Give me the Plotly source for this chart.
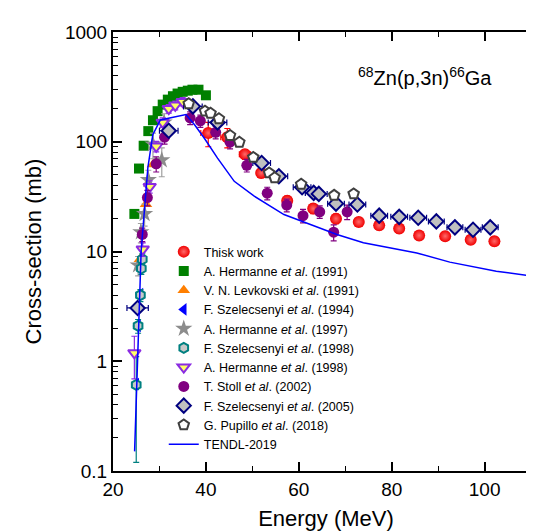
import plotly.graph_objects as go

# ---------------- data ----------------
tw_E = [40.5, 44.6, 48.4, 51.9, 57.5, 63.1, 68.0, 72.9, 77.3, 81.6, 85.9, 91.5, 97.0, 102.1]
tw_v = [120, 110, 77, 52, 29, 24.6, 19.9, 18.6, 17.3, 16.2, 14.0, 13.8, 12.8, 12.4]
tw_ey = [30, 22, 8, 5, 3, 2.5, 2, 1.5, 1.5, 1.4, 1.2, 1.2, 1.1, 1.1]
tw_ex = [1.6, 1.4, 1.2, 1.0, 0.9, 0.8, 0.7, 0.6, 0.6, 0.5, 0.5, 0.5, 0.5, 0.5]

h91_E = [24.6, 25.6, 26.6, 27.6, 28.6, 29.6, 30.7, 31.8, 32.9, 33.9, 35.0, 36.1, 37.1, 38.4, 40.0]
h91_v = [22, 57, 92, 125, 157, 190, 218, 242, 260, 275, 285, 292, 298, 298, 265]

lev_E = [25.8, 27.1, 28.6]
lev_v = [8.5, 27, 62]

s94_E = [25.0, 25.4, 25.9, 26.2]
s94_v = [0.62, 2.1, 4.1, 7.5]

h97_E = [25.4, 26.0, 26.8, 27.6, 28.6, 30.5, 31.0]
h97_v = [7.5, 15, 22, 45, 95, 68, 150]
h97_ey = [1.5, 3, 5, 10, 25, 20, 30]

s98_E = [25.0, 25.4, 25.9, 26.1, 26.3]
s98_v = [0.61, 2.1, 4.0, 7.0, 8.5]
s98_ey = [0.49, 0.3, 0.5, 0.8, 1.0]

h98_E = [24.6, 26.4, 27.9, 29.3, 30.7, 32.0, 33.4, 35.0]
h98_v = [1.19, 10.5, 39, 91, 150, 200, 215, 232]
h98_ey = [0.5, 1.5, 5, 10, 15, 18, 20, 20]

st_E = [26.3, 27.4, 29.3, 31.1, 36.6, 38.8, 42.1, 45.2, 48.8, 53.2, 57.4, 60.9, 64.5, 67.5, 70.4]
st_v = [14.3, 31, 63, 110, 165, 155, 122, 99, 61, 34, 26.5, 21.2, 23, 15, 23]
st_ey = [2, 5, 10, 15, 22, 20, 16, 13, 8, 4.5, 3.5, 3, 3, 2.5, 3.5]

s05_E = [25.3, 32.0, 37.2, 42.5, 52.0, 55.7, 60.7, 63.2, 64.3, 68.0, 72.6, 77.3, 81.6, 85.7, 89.6, 93.6, 97.5, 101.2]
s05_v = [3.06, 126, 210, 150, 64, 48.5, 38.5, 34.2, 33.5, 27.3, 26.8, 21.2, 20.7, 20.3, 18.8, 16.6, 15.8, 16.6]
s05_ex = [2.3, 2.0, 2.0, 2.0, 1.9, 1.9, 1.9, 1.8, 1.8, 1.8, 1.8, 1.8, 1.8, 1.8, 1.7, 1.7, 1.7, 1.7]

pu_E = [36.3, 39.8, 41.0, 42.8, 45.2, 47.2, 50.2, 53.6, 54.8, 60.5, 67.6, 71.8]
pu_v = [222, 190, 182, 162, 114, 99, 72, 52, 47, 41, 32.5, 33.5]
pu_ey = [15, 13, 12, 11, 8, 7, 5, 4, 3.5, 3, 2.5, 2.5]

tendl_E = [24.65, 26.06, 27.5, 28.57, 30.2, 35.7, 37.6, 39.7, 42.5, 46.1, 50.4, 56.8,
           62.5, 68.2, 73.9, 79.6, 85.4, 92.5, 102.5, 111.7]
tendl_v = [0.151, 10.1, 57.7, 116, 158, 177, 142, 107, 71, 43.6, 31.9, 21.7,
           17.6, 14.3, 12.0, 10.8, 9.7, 8.0, 6.6, 5.87]

FONT = "Arial, Liberation Sans, sans-serif"

fig = go.Figure()

def ey(arr, color):
    return dict(type="data", array=arr, visible=True, color=color, thickness=1.2, width=3)

fig.add_trace(go.Scatter(
    x=tw_E, y=tw_v, mode="markers", name="Thisk work",
    error_y=ey(tw_ey, "#ff0000"), error_x=ey(tw_ex, "#ff0000"),
    marker=dict(symbol="circle", size=12, color="#f00000",
                gradient=dict(type="radial", color="#ff6a6a"),
                line=dict(width=0))))

fig.add_trace(go.Scatter(
    x=h91_E, y=h91_v, mode="markers", name="A. Hermanne <i>et al</i>. (1991)",
    marker=dict(symbol="square", size=10, color="#008000", line=dict(width=0))))

fig.add_trace(go.Scatter(
    x=lev_E, y=lev_v, mode="markers", name="V. N. Levkovski <i>et al</i>. (1991)",
    marker=dict(symbol="triangle-up", size=11, color="#ff7f00", line=dict(width=0))))

fig.add_trace(go.Scatter(
    x=s94_E, y=s94_v, mode="markers", name="F. Szelecsenyi <i>et al</i>. (1994)",
    marker=dict(symbol="triangle-left", size=11, color="#0000ff", line=dict(width=0))))

fig.add_trace(go.Scatter(
    x=h97_E, y=h97_v, mode="markers", name="A. Hermanne <i>et al</i>. (1997)",
    error_y=ey(h97_ey, "#a0a0a0"),
    marker=dict(symbol="star", size=13, color="#8c8c8c", line=dict(width=0))))

fig.add_trace(go.Scatter(
    x=s98_E, y=s98_v, mode="markers", name="F. Szelecsenyi <i>et al</i>. (1998)",
    error_y=ey(s98_ey, "#008080"),
    marker=dict(symbol="hexagon", size=10, color="#c8c8c8",
                line=dict(width=2, color="#008080"))))

fig.add_trace(go.Scatter(
    x=h98_E, y=h98_v, mode="markers", name="A. Hermanne <i>et al</i>. (1998)",
    error_y=ey(h98_ey, "#8a2be2"),
    marker=dict(symbol="triangle-down", size=11, color="#ffff66",
                line=dict(width=2, color="#8a2be2"))))

fig.add_trace(go.Scatter(
    x=st_E, y=st_v, mode="markers", name="T. Stoll <i>et al</i>. (2002)",
    error_y=ey(st_ey, "#800080"),
    marker=dict(symbol="circle", size=11, color="#800080", line=dict(width=0))))

fig.add_trace(go.Scatter(
    x=s05_E, y=s05_v, mode="markers", name="F. Szelecsenyi <i>et al</i>. (2005)",
    error_x=ey(s05_ex, "#000080"),
    marker=dict(symbol="diamond", size=11, color="#c0c0c0",
                line=dict(width=2, color="#000080"))))

fig.add_trace(go.Scatter(
    x=pu_E, y=pu_v, mode="markers", name="G. Pupillo <i>et al</i>. (2018)",
    error_y=ey(pu_ey, "#404040"),
    marker=dict(symbol="pentagon", size=11, color="#ffffff",
                line=dict(width=2, color="#404040"))))

fig.add_trace(go.Scatter(
    x=tendl_E, y=tendl_v, mode="lines", name="TENDL-2019",
    line=dict(color="#0000ff", width=1.5)))

axis_common = dict(
    showline=True, linecolor="black", linewidth=2, mirror="allticks",
    ticks="inside", tickcolor="black", tickwidth=1.5, ticklen=9,
    showgrid=False, zeroline=False,
    tickfont=dict(family=FONT, size=19, color="black"),
)

fig.update_xaxes(
    range=[20, 111.7], tick0=20, dtick=20,
    minor=dict(ticks="inside", ticklen=5, dtick=10, tickcolor="black", tickwidth=1.2, showgrid=False),
    title=dict(text="Energy (MeV)", font=dict(family=FONT, size=22, color="black"), standoff=12),
    **axis_common)

fig.update_yaxes(
    type="log", range=[-1, 3], dtick=1,
    tickvals=[0.1, 1, 10, 100, 1000], ticktext=["0.1", "1", "10", "100", "1000"],
    minor=dict(ticks="inside", ticklen=5, dtick="D1", tickcolor="black", tickwidth=1.2, showgrid=False),
    title=dict(text="Cross-section (mb)", font=dict(family=FONT, size=22, color="black"), standoff=17),
    **axis_common)

fig.add_annotation(
    x=(349 - 105) / 428, y=(463 - 68) / 439, xref="paper", yref="paper",
    xanchor="left", yanchor="middle", showarrow=False,
    text="<sup>68</sup>Zn(p,3n)<sup>66</sup>Ga",
    font=dict(family=FONT, size=20, color="black"))

fig.update_layout(
    width=534, height=532,
    margin=dict(l=105, r=1, t=24, b=69),
    paper_bgcolor="white", plot_bgcolor="white",
    showlegend=True,
    legend=dict(x=(156 - 105) / 428, y=(463 - 229) / 439, xanchor="left", yanchor="top",
                bgcolor="rgba(0,0,0,0)", borderwidth=0,
                font=dict(family=FONT, size=12.5, color="black"),
                tracegroupgap=0, itemwidth=30),
)

fig.write_html("out.html")
